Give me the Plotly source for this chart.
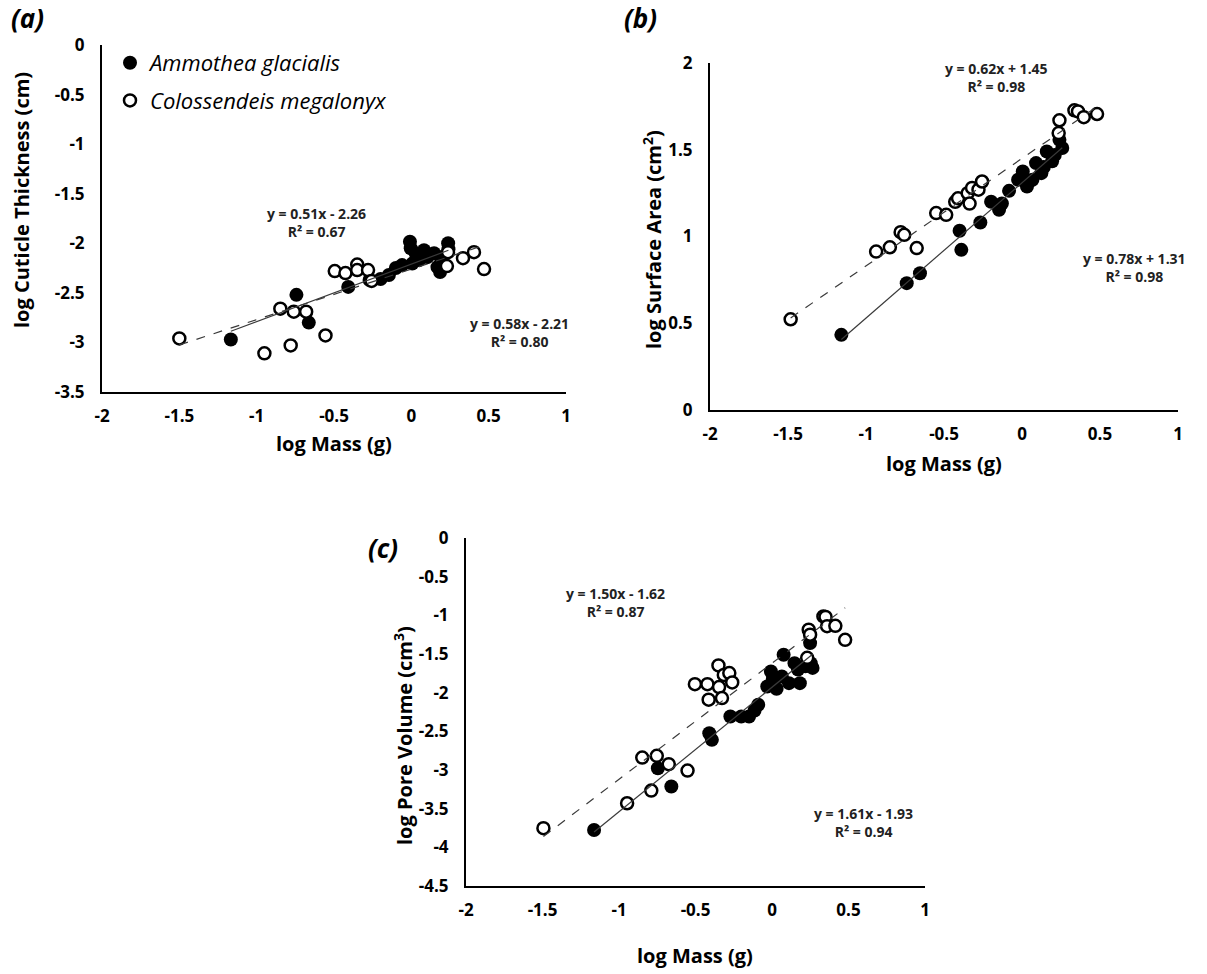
import plotly.graph_objects as go

# ---------------- data ----------------
tick_x_vals = [-2, -1.5, -1, -0.5, 0, 0.5, 1]
tick_x_text = ["-2", "-1.5", "-1", "-0.5", "0", "0.5", "1"]
tick_ya_vals = [0, -0.5, -1, -1.5, -2, -2.5, -3, -3.5]
tick_ya_text = ["0", "-0.5", "-1", "-1.5", "-2", "-2.5", "-3", "-3.5"]
tick_yb_vals = [0, 0.5, 1, 1.5, 2]
tick_yb_text = ["0", "0.5", "1", "1.5", "2"]
tick_yc_vals = [0, -0.5, -1, -1.5, -2, -2.5, -3, -3.5, -4, -4.5]
tick_yc_text = ["0", "-0.5", "-1", "-1.5", "-2", "-2.5", "-3", "-3.5", "-4", "-4.5"]

species = ["Ammothea glacialis", "Colossendeis megalonyx"]

# (a) log Cuticle Thickness
xa_amm = [-1.167, -0.743, -0.663, -0.408, -0.27, -0.199, -0.145, -0.10, -0.06, -0.009, -0.004,
          0.006, 0.028, 0.05, 0.082, 0.104, 0.147, 0.169, 0.186, 0.19, 0.238, 0.24]
ya_amm = [-2.97, -2.52, -2.80, -2.44, -2.37, -2.36, -2.32, -2.25, -2.22, -1.985, -2.05,
          -2.205, -2.10, -2.17, -2.07, -2.14, -2.10, -2.24, -2.29, -2.14, -2.00, -2.06]
xa_col = [-1.50, -0.95, -0.78, -0.555, -0.847, -0.76, -0.68, -0.495, -0.426, -0.35, -0.35,
          -0.28, -0.257, 0.237, 0.23, 0.334, 0.405, 0.47]
ya_col = [-2.96, -3.11, -3.03, -2.93, -2.66, -2.69, -2.69, -2.28, -2.30, -2.215, -2.27,
          -2.27, -2.38, -2.09, -2.23, -2.15, -2.09, -2.26]

# (b) log Surface Area
xb_amm = [-1.158, -0.739, -0.654, -0.40, -0.389, -0.267, -0.198, -0.147, -0.129, -0.083, -0.025,
          0.005, 0.032, 0.05, 0.067, 0.09, 0.124, 0.14, 0.159, 0.193, 0.21, 0.24, 0.258]
yb_amm = [0.433, 0.731, 0.788, 1.033, 0.923, 1.081, 1.20, 1.154, 1.19, 1.263, 1.327,
          1.375, 1.288, 1.32, 1.327, 1.423, 1.365, 1.40, 1.49, 1.433, 1.47, 1.557, 1.51]
xb_col = [-1.483, -0.935, -0.847, -0.778, -0.755, -0.675, -0.55, -0.486, -0.428, -0.41, -0.348,
          -0.336, -0.32, -0.279, -0.256, 0.235, 0.24, 0.336, 0.359, 0.396, 0.481]
yb_col = [0.523, 0.913, 0.938, 1.025, 1.01, 0.933, 1.135, 1.125, 1.20, 1.22, 1.25,
          1.19, 1.28, 1.27, 1.317, 1.596, 1.67, 1.727, 1.721, 1.688, 1.706]

# (c) log Pore Volume
xc_amm = [-1.163, -0.746, -0.658, -0.41, -0.393, -0.272, -0.201, -0.15, -0.114, -0.09, -0.031,
          -0.007, 0.005, 0.03, 0.064, 0.076, 0.111, 0.147, 0.17, 0.182, 0.218, 0.249, 0.253, 0.265]
yc_amm = [-3.775, -2.977, -3.214, -2.524, -2.61, -2.308, -2.308, -2.308, -2.23, -2.157, -1.92,
          -1.726, -1.83, -1.95, -1.79, -1.51, -1.877, -1.618, -1.70, -1.877, -1.66, -1.359, -1.618, -1.68]
xc_col = [-1.494, -0.947, -0.789, -0.848, -0.753, -0.675, -0.552, -0.504, -0.422, -0.414, -0.35,
          -0.346, -0.327, -0.315, -0.279, -0.26, 0.23, 0.24, 0.249, 0.336, 0.35, 0.36, 0.414, 0.478]
yc_col = [-3.753, -3.43, -3.266, -2.839, -2.817, -2.925, -3.007, -1.89, -1.89, -2.09, -1.648,
          -1.928, -2.07, -1.77, -1.747, -1.868, -1.55, -1.186, -1.25, -1.014, -1.02, -1.14, -1.135, -1.316]

# regression (slope, intercept, R2) per panel: [Ammothea, Colossendeis]
fit_a = [(0.58, -2.21, 0.80), (0.51, -2.26, 0.67)]
fit_b = [(0.78, 1.31, 0.98), (0.62, 1.45, 0.98)]
fit_c = [(1.61, -1.93, 0.94), (1.50, -1.62, 0.87)]

# ---------------- figure ----------------
FONT = "Open Sans"
W, H = 1207, 974
fig = go.Figure()

panels = [
    dict(name="a", xax="x", yax="y", amm=(xa_amm, ya_amm), col=(xa_col, ya_col), fit=fit_a),
    dict(name="b", xax="x2", yax="y2", amm=(xb_amm, yb_amm), col=(xb_col, yb_col), fit=fit_b),
    dict(name="c", xax="x3", yax="y3", amm=(xc_amm, yc_amm), col=(xc_col, yc_col), fit=fit_c),
]

for i, p in enumerate(panels):
    # filled series first, open series drawn on top
    fig.add_trace(go.Scatter(
        x=p["amm"][0], y=p["amm"][1], mode="markers", name=species[0],
        marker=dict(symbol="circle", size=14, color="black", line=dict(width=0)),
        xaxis=p["xax"], yaxis=p["yax"], showlegend=(i == 0), legendgroup="amm"))
    fig.add_trace(go.Scatter(
        x=p["col"][0], y=p["col"][1], mode="markers", name=species[1],
        marker=dict(symbol="circle", size=12, color="white", line=dict(width=2.5, color="black")),
        xaxis=p["xax"], yaxis=p["yax"], showlegend=(i == 0), legendgroup="col"))
    # trendlines from the equations, over each series' data range
    for (xs, _), (m, b, _r2), dash in [(p["amm"], p["fit"][0], "solid"), (p["col"], p["fit"][1], "dash")]:
        x0, x1 = min(xs), max(xs)
        fig.add_trace(go.Scatter(
            x=[x0, x1], y=[m * x0 + b, m * x1 + b], mode="lines",
            line=dict(color="#3a3a3a", width=1.2, dash=dash),
            xaxis=p["xax"], yaxis=p["yax"], showlegend=False, hoverinfo="skip"))

def px2paper_x(px):
    return px / W

def px2paper_y(py):
    return 1 - py / H

# plot-area pixel boxes (left, right, top, bottom)
boxes = {"a": (102, 566, 45, 392), "b": (710, 1178, 63, 410), "c": (466, 925, 538, 886)}
yranges = {"a": [-3.5, 0], "b": [0, 2], "c": [-4.5, 0]}
yticks = {"a": (tick_ya_vals, tick_ya_text), "b": (tick_yb_vals, tick_yb_text), "c": (tick_yc_vals, tick_yc_text)}

tickfont = dict(family=FONT, size=17, color="black", weight="bold")
axis_common = dict(showgrid=False, zeroline=False, showline=True, linecolor="black", linewidth=2,
                   ticks="", tickfont=tickfont, automargin=False)

for key, suffix in [("a", ""), ("b", "2"), ("c", "3")]:
    l, r, t, btm = boxes[key]
    fig.update_layout(**{
        "xaxis" + suffix: dict(domain=[px2paper_x(l), px2paper_x(r)], range=[-2, 1],
                               tickvals=tick_x_vals, ticktext=tick_x_text, ticklabelstandoff=8,
                               anchor="y" + suffix, **axis_common),
        "yaxis" + suffix: dict(domain=[px2paper_y(btm), px2paper_y(t)], range=yranges[key],
                               tickvals=yticks[key][0], ticktext=yticks[key][1], ticklabelstandoff=12,
                               anchor="x" + suffix, **axis_common),
    })

annotations = []
eqfont = dict(family=FONT, size=14, color="#222222", weight="bold")

def eq_text(m, b, r2):
    sign = "+" if b >= 0 else "-"
    return f"y = {m:.2f}x {sign} {abs(b):.2f}<br>R² = {r2:.2f}"

eq_pos = {
    "a": [(0.70, -2.895), (-0.61, -1.79)],
    "b": [(0.723, 0.824), (-0.163, 1.918)],
    "c": [(0.597, -3.678), (-1.025, -0.83)],
}
for key, suffix, fits in [("a", "", fit_a), ("b", "2", fit_b), ("c", "3", fit_c)]:
    for (ex, ey), (m, b, r2) in zip(eq_pos[key], fits):
        annotations.append(dict(x=ex, y=ey, xref="x" + suffix, yref="y" + suffix, text=eq_text(m, b, r2),
                                showarrow=False, font=eqfont, xanchor="center", yanchor="middle"))

titlefont = dict(family=FONT, size=20, color="black", weight="bold")
axis_titles = [
    ("log Cuticle Thickness (cm)", 22, 200, -90),
    ("log Mass (g)", 334, 443, 0),
    ("log Surface Area (cm<sup>2</sup>)", 652, 240, -90),
    ("log Mass (g)", 944, 463, 0),
    ("log Pore Volume (cm<sup>3</sup>)", 403, 735, -90),
    ("log Mass (g)", 695, 955, 0),
]
for text, px, py, ang in axis_titles:
    annotations.append(dict(x=px2paper_x(px), y=px2paper_y(py), xref="paper", yref="paper", text=text,
                            showarrow=False, font=titlefont, textangle=ang,
                            xanchor="center", yanchor="middle"))

panel_labels = [("(a)", 27, 18), ("(b)", 640, 18), ("(c)", 383, 548)]
for text, px, py in panel_labels:
    annotations.append(dict(x=px2paper_x(px), y=px2paper_y(py), xref="paper", yref="paper",
                            text=text, showarrow=False,
                            font=dict(family=FONT, size=26, color="black", weight="bold", style="italic"),
                            xanchor="center", yanchor="middle"))

fig.update_layout(
    width=W, height=H, margin=dict(l=0, r=0, t=0, b=0),
    paper_bgcolor="white", plot_bgcolor="white",
    annotations=annotations,
    legend=dict(x=px2paper_x(110), y=px2paper_y(42), xanchor="left", yanchor="top",
                font=dict(family=FONT, size=22, color="black", style="italic"),
                bgcolor="rgba(0,0,0,0)", tracegroupgap=6, itemsizing="trace"),
    showlegend=True,
)

fig.write_html("out.html")
